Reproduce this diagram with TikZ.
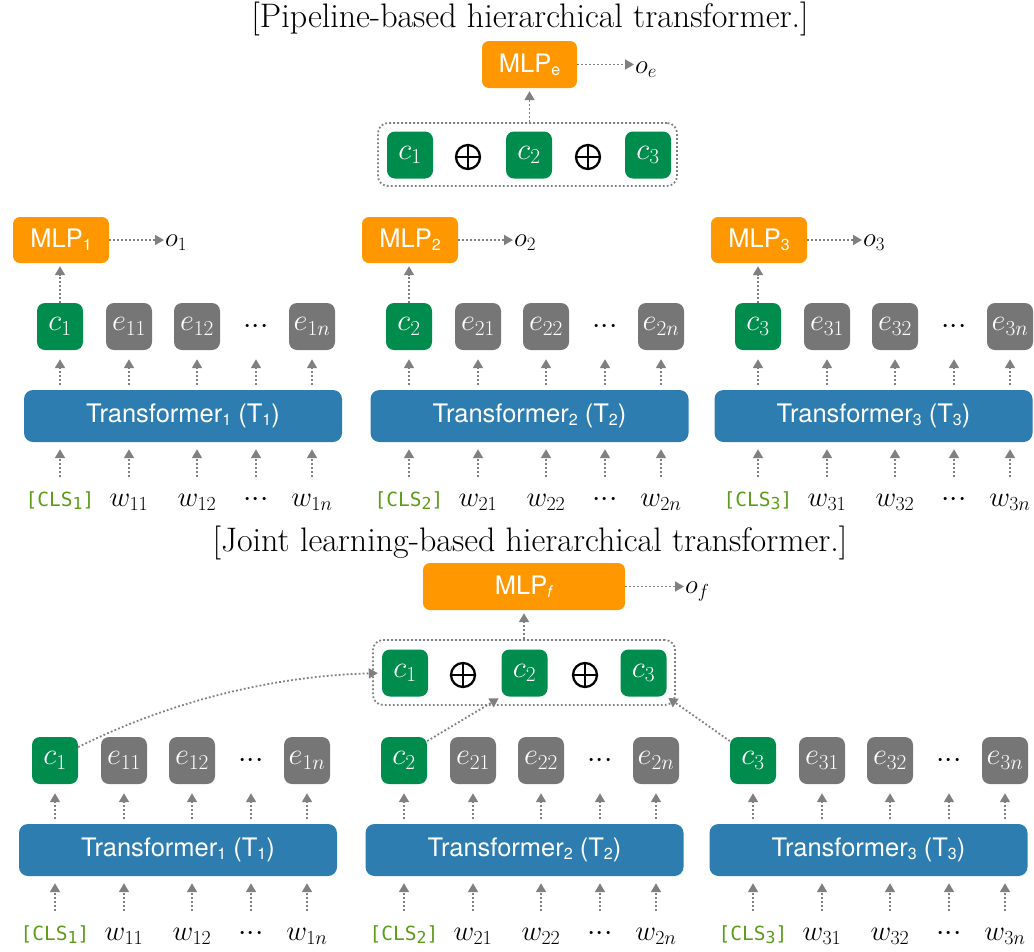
\RequirePackage{fix-cm}
\documentclass[tikz,border=0pt]{standalone}
\usepackage{fontspec}
\setsansfont{TeX Gyre Heros}
\setmonofont{DejaVu Sans Mono}
\usetikzlibrary{arrows.meta,calc}
\definecolor{morange}{RGB}{255,152,0}
\definecolor{cgreen}{RGB}{0,140,76}
\definecolor{egray}{RGB}{118,118,118}
\definecolor{tblue}{RGB}{46,125,176}
\definecolor{agray}{RGB}{128,128,128}
\definecolor{clsgreen}{RGB}{92,156,24}
\newcommand\mathsz{\fontsize{30.5}{33}\selectfont}
\newcommand\ssub[1]{\raisebox{-0.12em}{\fontsize{16}{16}\selectfont #1}}
\newcommand\msub[1]{\raisebox{-0.18em}{\fontsize{16.5}{16.5}\selectfont #1}}
\newcommand\tdots{${\cdotp}{\cdotp}{\cdotp}$}
\tikzset{
 box/.style={rounded corners=8pt, minimum width=46pt, minimum height=47pt, inner sep=0pt, text=white, font=\mathsz},
 cb/.style={box, fill=cgreen},
 eb/.style={box, fill=egray},
 dts/.style={inner sep=0pt, font=\fontsize{30}{32}\selectfont},
 mlp/.style={fill=morange, rounded corners=7pt, minimum width=96pt, minimum height=46pt, inner sep=0pt, text=white, font=\sffamily\fontsize{25.5}{28}\selectfont},
 tb/.style={fill=tblue, rounded corners=9pt, minimum width=318pt, minimum height=52pt, inner sep=0pt, text=white, font=\sffamily\fontsize{25.5}{28}\selectfont},
 arr/.style={draw=agray, line width=1.8pt, dash pattern=on 1.8pt off 2.2pt, -{Triangle[length=9pt,width=10pt]}},
 cat/.style={draw=agray, line width=1.8pt, dash pattern=on 1.8pt off 2.2pt, rounded corners=10pt, inner sep=0pt},
 lab/.style={inner sep=0pt, anchor=base, font=\fontsize{28.5}{31}\selectfont},
 cls/.style={inner sep=0pt, anchor=base, text=clsgreen, font=\ttfamily\fontsize{19.5}{22}\selectfont},
 olab/.style={inner sep=1pt, anchor=base west, font=\fontsize{27}{29}\selectfont},
 opl/.style={circle, draw=black, line width=2.3pt, minimum size=24pt, inner sep=0pt,
   path picture={\draw[line width=2.3pt] (path picture bounding box.north) -- (path picture bounding box.south)
     (path picture bounding box.west) -- (path picture bounding box.east);}},
 ttl/.style={inner sep=0pt, font=\fontsize{34}{38}\selectfont},
}
% #1 prefix, #2 index, #3 x-shift, #4 y-shift, #5 transformer centre x (unshifted frame)
\newcommand\hblock[5]{%
 \begin{scope}[shift={(#3,#4)}]
  \node[cb] (#1c) at (60,326.5) {$c_{#2}$};
  \node[eb] (#1e1) at (129,326.5) {$e_{#21}$};
  \node[eb] (#1e2) at (197,326.5) {$e_{#22}$};
  \node[dts] (#1d) at (256,326.5) {\tdots};
  \node[eb] (#1en) at (312,326.5) {$e_{#2n}$};
  \node[tb] (#1T) at (#5,416) {Transformer\ssub{#2} (T\ssub{#2})};
  \node[cls] (#1Lc) at (60,506) {[CLS\msub{#2}]};
  \node[lab] (#1Le1) at (129,506) {$w_{#21}$};
  \node[lab] (#1Le2) at (197,506) {$w_{#22}$};
  \node[lab, font=\fontsize{30}{32}\selectfont] (#1Ld) at (256,506) {\tdots};
  \node[lab] (#1Len) at (312,506) {$w_{#2n}$};
  \foreach \n in {c,e1,e2,d,en}{
   \draw[arr, shorten <=5pt, shorten >=9pt] (#1\n |- #1T.north) -- (#1\n |- #1c.south);
   \draw[arr, shorten >=7pt] ([yshift=29pt]#1L\n.base) -- (#1L\n.base |- #1T.south);
  }
 \end{scope}}
\begin{document}
\begin{tikzpicture}[x=1pt,y=-1pt]
\useasboundingbox (0,0) rectangle (1034,951);
% ---------- pipeline ----------
\node[ttl] (t1) at (530,19) {[Pipeline-based hierarchical transformer.]};
\hblock{Pa}{1}{0}{0}{183}
\hblock{Pb}{2}{349}{0}{180.5}
\hblock{Pc}{3}{698}{0}{175.5}
\node[mlp] (Pam) at (61,240) {MLP\ssub{1}};
\node[mlp] (Pbm) at (410,240) {MLP\ssub{2}};
\node[mlp] (Pcm) at (759,240) {MLP\ssub{3}};
\node[olab] (Pao) at (164,246) {$o_1$};
\node[olab] (Pbo) at (513,246) {$o_2$};
\node[olab] (Pco) at (862,246) {$o_3$};
\foreach \p in {Pa,Pb,Pc}{
 \draw[arr, shorten >=3pt] (\p c.north) -- (\p c.north |- \p m.south);
 \draw[arr] (\p m.east) -- (\p m.east -| \p o.west);
}
\node[cb] (pc1) at (410,155) {$c_1$};
\node[cb] (pc2) at (529,155) {$c_2$};
\node[cb] (pc3) at (648,155) {$c_3$};
\node[opl] (pp1) at (468,157) {};
\node[opl] (pp2) at (588,157) {};
\node[cat, minimum width=299pt, minimum height=63pt] (pcat) at (527.5,154.5) {};
\node[mlp, minimum width=95pt, minimum height=47pt] (me) at (529.5,64.5) {MLP\ssub{e}};
\node[olab] (oe) at (634,73) {$o_e$};
\draw[arr, shorten >=3pt] (me.south |- pcat.north) -- (me.south);
\draw[arr] (me.east) -- (me.east -| oe.west);
% ---------- joint ----------
\node[ttl] (t2) at (530,543) {[Joint learning-based hierarchical transformer.]};
\hblock{Ja}{1}{-5}{434}{183}
\hblock{Jb}{2}{344}{434}{180.5}
\hblock{Jc}{3}{693}{434}{175.5}
\node[cb] (bc1) at (405,673) {$c_1$};
\node[cb] (bc2) at (524.5,673) {$c_2$};
\node[cb] (bc3) at (643.5,673) {$c_3$};
\node[opl] (bp1) at (463,675) {};
\node[opl] (bp2) at (585,675) {};
\node[cat, minimum width=302pt, minimum height=65pt] (bcat) at (524,672.5) {};
\node[mlp, minimum width=202pt, minimum height=47pt] (mf) at (524,586.5) {MLP\ssub{\textit{f}}};
\node[olab] (of) at (684,593) {$o_f$};
\draw[arr, shorten >=3pt] (mf.south |- bcat.north) -- (mf.south);
\draw[arr] (mf.east) -- (mf.east -| of.west);
\draw[arr, shorten >=4pt] (Jac.30) .. controls +(90,-45) and +(-110,3) .. (bc1.west);
\draw[arr, shorten >=3pt] (Jbc.40) -- (bc2.south west);
\draw[arr, shorten >=2pt] (Jcc.140) -- (bc3.south east);
\end{tikzpicture}
\end{document}
